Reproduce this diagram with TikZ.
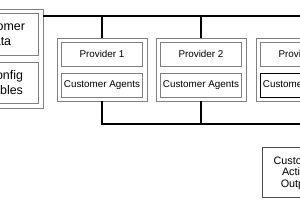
\documentclass[tikz,border=0pt]{standalone}
\usepackage{fontspec}
\setmainfont{Liberation Sans}
\usepackage{tikz}
\usetikzlibrary{positioning,calc}
\definecolor{edge}{gray}{0.5}
\tikzset{
  grp/.style={draw=edge, line width=0.6pt, minimum width=27mm, minimum height=18.9mm},
  cell/.style={draw=edge, line width=0.6pt, minimum width=24.3mm, minimum height=7.2mm, inner sep=1pt, align=center, font=\fontsize{8.4}{10}\selectfont},
  big/.style={draw=edge, line width=0.6pt, align=center, inner sep=1pt, font=\fontsize{10.6}{12.6}\selectfont},
  outbox/.style={draw=black!70, line width=0.6pt, minimum width=21mm, minimum height=15mm, align=center, inner sep=1pt, font=\fontsize{9.2}{9.8}\selectfont},
  link/.style={line width=1pt},
}

\begin{document}
\begin{tikzpicture}[x=0.3mm, y=-0.3mm]
  \clip (0,0) rectangle (300,210);
  \fill[white] (0,0) rectangle (300,210);
  % customer side
  \node[draw=edge, line width=0.6pt, minimum width=25.8mm, minimum height=29.7mm] (left) at (0,58.5) {};
  \node[big, minimum width=24mm, minimum height=12.6mm] (cdata) at (-2,34) {Customer\\Data};
  \node[big, minimum width=19.8mm, minimum height=12.3mm] (ctab) at (5,82.5) {Config\\Tables};
  % providers
  \node[grp] (p1) at (102,69.5) {};
  \node[cell] (p1n) at (102,54) {Provider 1};
  \node[cell] (p1a) at (102,85) {Customer Agents};
  \node[grp] (p2) at (201,69.5) {};
  \node[cell] (p2n) at (201,54) {Provider 2};
  \node[cell] (p2a) at (201,85) {Customer Agents};
  \node[grp] (p3) at (301,69.5) {};
  \node[cell] (p3n) at (301,54) {Provider 3};
  \node[cell, draw=black] (p3a) at (301,85) {Customer Agents};
  \node[outbox, text depth=-4pt] (cao) at (297,172) {Customer\\Action\\Output};
  \coordinate (tbus) at (43,16);
  \coordinate (bbus) at (102,124);
  \draw[link] (tbus) -- (p3.north |- tbus) -- (p3.north);
  \draw[link] (p1.north |- tbus) -- (p1.north);
  \draw[link] (p2.north |- tbus) -- (p2.north);
  \draw[link] (p1.south) -- (bbus) -- (p3.south |- bbus);
  \draw[link] (p2.south) -- (p2.south |- bbus);
  \draw[link] (p3.south) -- (p3.south |- cao.north);
\end{tikzpicture}
\end{document}
